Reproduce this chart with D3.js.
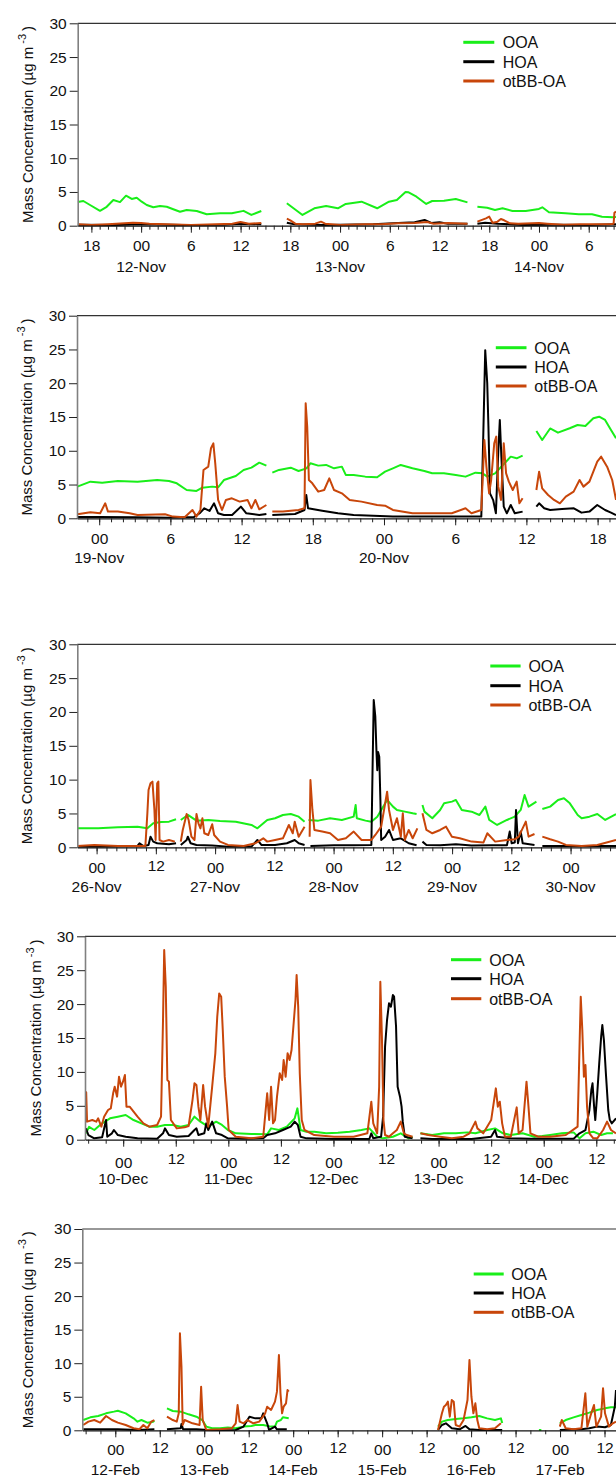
<!DOCTYPE html>
<html><head><meta charset="utf-8">
<script src="https://cdn.jsdelivr.net/npm/d3@7"></script>
<style>
body{margin:0;background:#fff;}
svg{display:block;font-family:"Liberation Sans",Arial,sans-serif;}
</style></head><body>
<svg id="chart" width="616" height="1478"></svg>
<script>
// ---------------- DATA ----------------
const seriesNames = ["OOA", "HOA", "otBB-OA"];
const yTicks = [0, 5, 10, 15, 20, 25, 30];

// Panel 1 : hours from 12-Nov 00:00
const p1Ticks = ["18","00","6","12","18","00","6","12","18","00","6"];
const p1Dates = ["12-Nov","13-Nov","14-Nov"];
const p1OOA = [[-7.65,3.5],[-6.97,3.66],[-6.16,3.07],[-4.96,2.2],[-4.15,2.8],[-3.35,3.8],[-2.55,3.5],[-1.82,4.45],[-1.13,3.96],[-0.53,4.15],[0.07,3.56],[0.68,3.07],[1.47,2.73],[2.28,2.92],[3.09,2.8],[3.88,2.43],[4.69,2.07],[5.5,2.33],[6.71,2.18],[7.91,1.69],[9.52,1.84],[10.94,1.84],[12.36,2.2],[13.3,1.6],[14.5,2.18],null,
 [17.58,3.32],[19.47,1.59],[20.9,2.58],[22.32,2.92],[23.74,2.58],[24.69,3.22],[26.59,3.56],[28.48,2.58],[29.9,3.56],[30.85,3.81],[31.9,5.0],[32.27,4.95],[33.22,4.3],[34.4,3.22],[35.11,3.66],[36.54,3.71],[37.96,3.96],[39.37,3.46],null,
 [40.57,2.82],[41.75,2.67],[42.69,2.33],[43.6,2.58],[44.8,2.18],[46.4,2.18],[47.99,2.48],[48.4,2.73],[49.2,1.99],[51.2,1.84],[52.8,1.69],[54.4,1.69],[55.6,1.34],[56.9,1.24],[57.29,1.3]];
const p1HOA = [[-7.65,0.15],[-3,0.1],[0,0.2],[5,0.1],[10,0.15],[12,0.3],[14.5,0.2],null,
 [17.58,0.45],[18.5,0.2],[22,0.1],[28,0.2],[31,0.4],[33,0.5],[34.2,0.85],[35,0.4],[36,0.5],[37,0.3],[39.37,0.3],null,
 [40.57,0.3],[41.5,0.45],[43,0.3],[46,0.1],[50,0.15],[54,0.1],[57.29,0.2]];
const p1BB = [[-7.65,0.2],[-6,0.1],[-4,0.2],[-2,0.35],[-1,0.45],[0,0.4],[1,0.3],[3,0.2],[6,0.1],[9,0.2],[11,0.3],[12,0.55],[13,0.3],[14.5,0.4],null,
 [17.58,1.05],[18,0.8],[18.6,0.3],[19.5,0.2],[21,0.3],[21.7,0.6],[22.2,0.3],[24,0.1],[27,0.2],[29,0.2],[31,0.35],[33,0.4],[34.5,0.55],[35.3,0.3],[37,0.4],[39.37,0.3],null,
 [40.57,0.6],[41.2,0.9],[41.6,1.09],[42.0,1.34],[42.4,0.45],[43.0,0.6],[43.4,0.99],[43.8,0.8],[44.5,0.35],[45.5,0.3],[48,0.4],[49,0.3],[51,0.15],[53,0.2],[56.5,0.2],[57.0,0.3],[57.1,1.9],[57.29,2.1]];

// Panel 2 : hours from 19-Nov 00:00
const p2Ticks = ["00","6","12","18","00","6","12","18"];
const p2Dates = ["19-Nov","20-Nov"];
const p2OOA = [[-1.84,4.69],[-0.74,5.43],[0.25,5.28],[1.57,5.53],[3.23,5.43],[4.88,5.67],[5.88,5.53],[6.54,5.18],[7.37,4.19],[8.2,4.05],[8.69,4.54],[9.52,4.69],[10.02,4.59],[10.51,5.67],[11.51,6.27],[12.17,7.16],[12.83,7.5],[13.49,8.24],[14.09,7.8],null,
 [14.59,6.76],[15.15,7.16],[16.14,7.5],[16.8,7.01],[17.47,7.4],[17.8,8.14],[18.46,7.8],[19.12,7.9],[19.79,7.4],[20.45,7.65],[20.78,6.42],[21.44,6.42],[22.43,6.17],[23.42,6.07],[24.09,6.91],[24.75,7.4],[25.41,7.9],[26.4,7.4],[27.4,7.01],[28.06,6.66],[29.05,6.66],[30.05,6.42],[30.87,6.17],[31.71,6.76],[32.3,6.66],[32.7,6.17],[33.36,6.66],[34.02,7.9],[34.68,9.13],[35.18,8.88],[35.68,9.28],null,
 [36.84,12.93],[37.33,11.6],[38.0,13.3],[38.66,12.68],[39.65,13.33],[40.31,13.82],[40.97,13.67],[41.64,14.81],[42.13,15.05],[42.63,14.56],[43.13,13.08],[43.55,11.85]];
const p2HOA = [[-1.87,0.2],[0,0.2],[3,0.15],[6,0.1],[8,0.2],[8.5,0.8],[8.86,1.48],[9.3,1.1],[9.68,2.22],[10.02,0.74],[10.51,0.49],[11.2,0.49],[11.94,1.73],[12.4,0.74],[13.49,0.49],[14.09,0.64],null,
 [14.59,0.49],[16.5,0.64],[17.3,1.23],[17.45,3.45],[17.6,1.48],[18.79,1.13],[20.12,0.74],[21.44,0.49],[24.75,0.25],[28.06,0.25],[32.2,0.25],[32.37,12.6],[32.53,24.9],[32.7,20.0],[32.8,13.6],[32.93,3.7],[33.2,2.7],[33.43,0.74],[33.63,9.87],[33.76,14.56],[33.89,9.13],[34.09,1.73],[34.35,0.74],[34.68,1.97],[35.02,0.74],[35.68,0.99],null,
 [36.84,1.73],[37.07,2.22],[37.5,1.48],[38.0,1.23],[39.0,1.38],[40.0,1.48],[40.64,0.84],[41.31,0.99],[41.97,1.97],[42.63,1.23],[43.13,0.84],[43.55,0.49]];
const p2BB = [[-1.84,0.59],[-0.74,0.89],[0.08,0.74],[0.51,2.22],[0.74,0.99],[1.57,0.99],[2.57,0.74],[3.23,0.49],[5.55,0.59],[6.21,0.25],[7.2,0.15],[7.86,1.23],[8.2,0.25],[8.53,1.23],[8.79,7.16],[9.19,7.65],[9.42,10.37],[9.62,11.1],[9.78,8.14],[10.02,2.72],[10.35,1.23],[10.68,2.72],[11.18,2.96],[11.84,2.47],[12.5,2.72],[12.83,1.48],[13.16,2.72],[13.49,1.33],[14.09,1.97],null,
 [14.59,0.99],[15.48,0.99],[16.8,1.23],[17.3,1.48],[17.4,17.03],[17.53,13.6],[17.67,5.67],[17.96,5.18],[18.46,3.95],[18.96,4.19],[19.39,5.92],[19.79,4.19],[20.45,3.7],[21.11,2.72],[22.1,2.47],[23.42,1.97],[24.09,1.87],[24.75,1.23],[26.4,0.74],[28.06,0.74],[29.71,0.74],[30.87,1.48],[31.37,0.74],[32.2,1.23],[32.46,11.6],[32.63,7.65],[32.86,3.7],[33.03,5.67],[33.29,11.1],[33.46,12.1],[33.63,4.69],[33.86,2.72],[34.09,11.1],[34.29,6.66],[34.52,5.43],[34.85,4.19],[35.18,5.43],[35.41,2.22],[35.68,2.96],null,
 [36.84,4.19],[37.07,6.91],[37.33,4.44],[37.83,3.45],[38.33,2.72],[38.82,2.22],[39.32,3.21],[39.98,3.95],[40.48,5.67],[40.81,4.69],[41.31,5.43],[41.97,8.39],[42.3,9.13],[42.8,7.65],[43.23,5.67],[43.55,2.72]];

// Panel 3 : hours from 26-Nov 00:00
const p3Ticks = ["00","12","00","12","00","12","00","12","00"];
const p3Dates = ["26-Nov","27-Nov","28-Nov","29-Nov","30-Nov"];
const p3OOA = [[-3.9,2.8],[0.33,2.8],[4.31,2.95],[8.29,3.05],[10.28,2.8],[11.47,3.55],[13.07,3.74],[14.66,3.79],[16.09,4.14],null,
 [17.05,4.04],[18.48,4.78],[20.23,3.94],[22.62,4.04],[25.0,3.89],[28.19,3.79],[31.37,3.3],[32.57,2.8],[34.56,4.04],[36.15,4.29],[37.74,4.78],[39.33,4.92],[40.93,4.53],[42.12,3.79],null,
 [42.92,4.04],[44.9,3.94],[47.29,4.29],[49.68,4.04],[52.07,4.53],[52.47,6.25],[52.7,4.29],[54.46,3.94],[55.65,3.79],[56.85,4.53],[58.84,7.0],[60.03,6.01],[60.83,5.52],[62.42,5.27],[64.02,5.02],[64.81,4.92],null,
 [66.0,6.25],[66.4,5.27],[68.0,4.29],[69.58,5.52],[70.38,6.5],[71.97,6.75],[72.77,7.0],[73.96,5.52],[75.95,5.27],[77.54,4.78],[78.74,6.01],[79.53,4.04],[81.12,3.3],[83.11,4.04],[84.7,4.53],[85.9,5.52],[86.69,7.73],[87.49,6.01],[88.53,6.5],[89.08,6.75],null,
 [90.28,5.66],[91.87,6.01],[93.46,7.0],[94.66,7.24],[95.85,6.5],[97.44,4.78],[98.24,4.29],[99.83,4.53],[101.42,4.92],[103.02,4.04],[105.2,4.92]];
const p3HOA = [[-3.9,0.1],[0,0.1],[4,0.15],[8.29,0.2],[8.69,0.6],[9.48,0.2],[10.52,0.35],[10.92,1.57],[11.47,0.84],[12.27,0.6],[14.66,0.44],[16.09,0.6],null,
 [17.05,0.35],[18.24,1.08],[18.48,1.57],[19.04,0.6],[20.23,0.35],[23.41,0.25],[26.6,0.1],[31.37,0.1],[32.57,1.08],[33.37,0.35],[36.15,0.35],[38.54,0.6],[40.13,1.08],[40.93,0.6],[42.12,0.35],null,
 [43.31,0.2],[48.09,0.3],[52.07,0.3],[55.65,0.35],[55.9,11.92],[56.13,21.77],[56.45,19.3],[56.69,14.1],[56.85,11.4],[57.01,14.1],[57.25,13.4],[57.48,7.0],[57.64,1.08],[58.44,1.57],[59.23,2.56],[60.03,1.08],[61.62,1.33],[63.22,0.6],[64.81,0.3],null,
 [66.0,0.84],[66.8,0.35],[69.58,0.3],[72.77,0.44],[75.95,0.25],[79.93,0.3],[83.11,0.3],[83.67,2.32],[84.07,0.6],[84.7,0.7],[84.95,5.52],[85.34,0.6],[85.9,2.32],[86.3,0.6],[88.69,0.35],null,
 [90.28,0.2],[95.85,0.2],[105.2,0.2]];
const p3BB = [[-3.9,0.2],[-0.47,0.35],[4.31,0.2],[9.88,0.2],[10.28,5.02],[10.52,8.47],[10.92,9.46],[11.31,9.7],[11.71,5.52],[11.95,1.08],[12.27,9.46],[12.51,9.7],[12.75,1.08],[13.46,0.84],[14.66,1.08],[15.85,0.84],null,
 [17.05,0.84],[17.45,2.56],[18.24,4.92],[18.64,4.04],[19.2,1.57],[19.83,1.08],[20.23,4.92],[20.63,3.55],[21.03,2.8],[21.43,4.29],[21.82,2.07],[22.62,1.82],[23.41,3.4],[23.81,1.82],[25.0,0.84],[26.6,0.35],[29.78,0.2],[32.17,0.6],[33.76,1.33],[34.56,0.84],[36.15,1.08],[37.74,1.33],[38.94,3.3],[39.73,2.07],[40.13,3.79],[40.93,1.57],[42.12,3.05],null,
 [43.15,1.57],[43.31,9.95],[43.71,5.52],[44.11,2.56],[45.7,2.32],[47.29,2.07],[48.89,1.08],[50.48,1.33],[52.07,2.32],[53.66,1.08],[55.65,1.08],[56.45,1.82],[57.64,3.05],[58.44,6.5],[58.84,8.22],[59.23,5.52],[60.03,2.56],[60.83,4.29],[61.62,1.57],[62.02,5.02],[62.42,1.08],[63.22,2.56],[64.02,1.33],[64.97,2.8],null,
 [66.0,5.02],[66.8,2.56],[68.0,2.07],[69.58,2.56],[70.78,3.05],[71.97,1.57],[73.56,1.33],[75.95,0.84],[78.34,0.7],[79.13,2.07],[80.73,0.84],[83.11,1.08],[84.7,1.18],[85.5,1.57],[86.93,3.79],[87.49,1.57],[88.69,1.97],null,
 [90.28,1.57],[91.87,1.18],[93.46,0.84],[95.06,0.35],[98.24,0.2],[101.42,0.35],[105.2,1.08]];

// Panel 4 : hours from 10-Dec 00:00
const p4Ticks = ["00","12","00","12","00","12","00","12","00","12"];
const p4Dates = ["10-Dec","11-Dec","12-Dec","13-Dec","14-Dec"];
const p4OOA = [[-8.5,0.94],[-7.8,1.9],[-6.6,1.43],[-4.81,2.41],[-3.01,3.15],[-1.22,3.4],[0.57,3.64],[2.37,2.9],[4.16,2.41],[5.95,1.92],[7.75,1.92],[9.54,2.17],[11.33,2.17],[13.13,1.92],[14.93,2.17],[16.27,3.4],[17.62,2.66],[19.41,1.92],[21.21,2.66],[22.55,2.17],[23.9,1.43],[25.69,0.94],[29.28,0.84],[32.87,0.79],[33.76,1.67],[35.56,1.43],[37.35,1.92],[39.15,3.15],[39.77,4.62],[40.49,1.43],[41.84,1.18],[43.63,1.18],[46.32,0.94],[49.01,1.03],[51.7,1.18],[54.39,1.43],[56.19,1.67],[57.98,0.44],[59.33,0.2],[61.57,0.44],[63.36,0.94],[65.16,0.2],[66.06,0.44],null,
 [67.85,0.94],[70.54,0.69],[73.23,0.94],[75.92,0.94],[78.61,1.08],[80.41,0.94],[83.1,1.43],[84.89,1.67],[86.69,0.94],[88.48,0.69],[91.17,0.94],[93.86,0.44],[95.66,0.54],[97.45,0.69],[100.14,0.94],[102.83,1.08],[104.18,0.2],[105.53,0.94],[107.32,1.18],[109.11,0.69],[110.46,0.94],[111.8,0.94]];
const p4HOA = [[-8.5,1.67],[-7.95,0.69],[-6.6,0.2],[-4.81,0.35],[-3.91,2.9],[-3.64,0.44],[-2.57,0.94],[-2.12,1.43],[-1.22,0.69],[0.57,0.44],[3.27,0.2],[7.75,0.15],[9.09,0.94],[9.54,1.67],[10.44,0.69],[12.23,0.44],[14.93,0.54],[16.27,1.43],[16.72,1.67],[17.17,0.69],[18.51,0.94],[18.96,2.41],[19.41,1.43],[20.31,2.66],[21.21,0.94],[22.55,0.69],[23.9,0.2],[27.49,0.15],[31.97,0.2],[32.87,0.69],[34.66,0.94],[36.46,1.43],[38.25,1.92],[39.15,2.66],[39.87,2.17],[40.49,0.44],[41.84,0.2],[48.12,0.1],[56.19,0.1],[56.64,0.94],[57.09,0.2],[58.88,0.44],[59.33,3.4],[59.78,13.72],[60.23,17.65],[60.68,20.11],[61.12,19.62],[61.57,21.34],[61.84,21.1],[62.29,16.67],[62.65,7.82],[63.19,6.35],[63.55,4.87],[63.82,2.66],[64.27,0.44],[66.06,0.2],null,
 [67.85,0.2],[70.54,0.1],[79.51,0.1],[83.99,0.44],[84.89,1.43],[85.34,0.44],[88.48,0.2],[92.97,0.15],[97.45,0.15],[102.83,0.15],[104.18,0.94],[105.53,1.43],[106.43,4.38],[106.87,7.33],[107.14,8.31],[107.5,4.87],[107.77,2.9],[108.22,6.84],[108.67,11.26],[109.11,15.19],[109.38,16.91],[109.74,14.7],[110.19,9.79],[110.73,4.38],[111.09,2.9],[111.53,2.41],[112.5,3.15]];
const p4BB = [[-8.6,2.6],[-8.45,7.0],[-8.25,2.66],[-7.05,2.9],[-6.15,2.66],[-5.71,3.15],[-4.99,1.92],[-4.36,3.4],[-3.46,4.38],[-2.83,4.62],[-2.3,6.84],[-1.94,7.82],[-1.4,6.35],[-0.95,9.3],[-0.5,7.82],[-0.05,8.56],[0.39,9.54],[0.75,4.87],[1.47,4.87],[2.37,4.13],[3.27,3.4],[4.61,2.41],[5.95,1.92],[7.75,2.17],[8.64,3.4],[9.09,17.65],[9.36,27.98],[9.72,22.56],[10.08,8.8],[10.44,8.56],[10.89,2.9],[12.23,1.67],[14.03,1.82],[14.93,2.02],[15.82,5.85],[16.27,8.31],[16.72,8.07],[17.17,4.87],[17.62,2.9],[18.25,8.07],[18.69,4.87],[19.41,1.92],[20.31,7.82],[21.03,12.74],[21.47,18.14],[21.92,21.58],[22.37,21.09],[22.73,16.18],[23.18,9.3],[23.72,4.87],[24.08,1.43],[25.69,0.44],[29.28,0.2],[31.97,0.44],[32.87,6.84],[33.32,2.9],[33.76,7.82],[34.21,2.41],[34.66,2.9],[35.11,6.35],[35.74,9.79],[36.28,8.8],[36.63,11.75],[37.08,9.3],[37.53,12.74],[37.98,11.75],[38.43,13.23],[38.97,17.65],[39.33,20.6],[39.59,24.29],[39.95,19.62],[40.31,9.79],[40.76,2.9],[41.39,1.43],[43.63,0.69],[48.12,0.44],[52.6,0.44],[55.74,0.94],[56.64,5.61],[57.09,2.41],[57.98,0.94],[58.43,7.82],[58.7,23.3],[59.06,15.19],[59.42,2.9],[59.78,0.69],[60.68,0.44],[61.57,0.94],[62.47,1.43],[63.36,2.66],[64.08,0.94],[64.71,0.69],[66.06,0.44],null,
 [67.85,0.94],[69.64,0.69],[72.33,0.44],[75.02,0.2],[77.71,0.44],[79.06,0.94],[80.41,2.66],[80.86,1.67],[82.2,0.94],[84.0,2.9],[85.07,7.57],[85.52,4.87],[85.97,5.61],[86.51,2.41],[87.14,0.44],[88.48,0.44],[89.83,4.77],[90.28,0.94],[91.17,1.43],[92.07,8.56],[92.52,4.87],[92.97,0.94],[94.76,0.44],[97.45,0.44],[101.04,0.69],[103.73,1.92],[104.45,21.09],[104.81,16.18],[105.17,9.3],[105.53,11.02],[105.89,4.87],[106.43,0.94],[107.32,0.2],[108.22,0.2],[109.56,1.43],[110.46,2.66],[111.35,1.43],[112.5,0.94]];

// Panel 5 : hours from 12-Feb 00:00
const p5Ticks = ["00","12","00","12","00","12","00","12","00","12","00","12"];
const p5Dates = ["12-Feb","13-Feb","14-Feb","15-Feb","16-Feb","17-Feb"];
const p5OOA = [[-8.64,1.53],[-6.73,1.93],[-4.61,2.13],[-2.49,2.53],[-0.37,2.78],[0.69,2.92],[2.81,2.53],[4.93,1.78],[5.99,1.29],[7.05,1.53],[8.64,1.14],[10.23,1.29],[10.55,1.39],null,
 [13.94,3.27],[15.53,2.88],[17.65,2.78],[19.77,2.38],[21.89,2.03],[23.48,1.53],[24.54,0.55],[26.13,0.3],[28.25,0.3],[30.37,0.4],[32.49,0.3],[34.61,0.55],[36.73,0.65],[37.79,0.79],[39.91,0.79],[42.03,0.55],[43.09,0.55],[43.62,1.29],[44.68,1.53],[45.21,1.93],[46.8,1.78],null,
 [87.08,0.55],[88.14,1.29],[89.73,1.53],[91.85,1.69],[93.97,1.78],[96.09,1.93],[98.21,2.13],[100.33,1.78],[102.45,1.53],[104.04,1.78],[104.4,1.1],null,
 [114.3,0.05],[114.96,0.05],null,
 [119.94,1.04],[121.53,1.53],[123.65,1.93],[125.77,2.28],[127.89,2.63],[130.01,3.02],[132.13,3.27],[133.72,3.42],[135.1,3.42]];
const p5HOA = [[-8.64,0.15],[0.69,0.15],[5.99,0.05],[10.55,0.15],null,
 [13.94,0.15],[17.65,0.3],[17.86,0.94],[18.29,0.15],[21.89,0.15],[26.13,0],[32.49,0.05],[34.61,0.55],[36.2,2.03],[37.79,1.78],[39.38,1.78],[39.91,2.53],[40.97,1.04],[41.5,0.05],[43.09,0.55],[43.62,0.15],[46.27,0.15],null,
 [87.08,0.05],[88.14,0.79],[89.2,1.04],[90.79,0.3],[92.91,0.15],[94.5,0.65],[95.56,0.15],[98.21,0.05],[104.4,0.05],null,
 [119.94,0.05],[125.77,0.15],[127.89,0.3],[130.01,0.55],[132.13,0.45],[133.72,0.79],[134.78,3.52],[135.1,6.01]];
const p5BB = [[-8.64,0.79],[-7.26,1.29],[-5.67,1.53],[-4.08,1.14],[-2.49,2.13],[-0.9,1.53],[0.69,1.14],[2.81,0.79],[4.93,0.3],[6.52,0.15],[7.58,0.79],[8.64,0.3],[9.7,1.29],[10.55,1.53],null,
 [13.94,2.03],[15.53,1.53],[16.59,1.29],[17.12,2.53],[17.44,14.46],[17.86,9.48],[18.18,0.79],[18.71,1.53],[20.83,1.04],[22.74,0.79],[23.16,6.5],[23.59,1.53],[24.54,0.05],[28.25,0.15],[31.43,0.3],[32.49,1.04],[33.0,3.77],[33.55,1.29],[34.61,1.04],[35.67,1.53],[37.26,1.04],[38.85,1.29],[40.44,2.53],[40.97,3.52],[42.03,3.03],[43.09,4.27],[43.62,5.76],[44.15,11.22],[44.57,5.51],[45.0,2.53],[45.42,3.52],[46.06,4.02],[46.48,6.01],[46.8,5.76],null,
 [87.08,0.05],[88.14,2.53],[88.67,3.52],[89.2,3.77],[89.73,4.27],[90.26,2.03],[90.79,4.52],[91.32,4.27],[91.85,0.79],[92.91,0.55],[93.97,1.53],[95.03,4.52],[95.56,10.47],[96.09,5.01],[96.62,2.53],[97.15,4.02],[97.68,1.53],[98.21,0.3],[100.33,0.15],[102.45,0.3],[104.04,1.04],null,
 [119.94,0.55],[120.47,1.53],[121.53,0.3],[123.65,0.15],[125.77,0.3],[126.83,5.51],[127.36,0.55],[128.42,2.53],[129.16,3.77],[129.8,0.55],[131.07,2.03],[131.6,6.26],[132.13,2.53],[133.19,0.55],[134.25,1.04],[135.1,1.29]];

// ---------------- LAYOUT / STYLE ----------------
const colors = ["#19ee19", "#000000", "#c8460a"];
const W = 616;
const panels = [
 {base:[2016,10,12], left:77.7, top:23.3, bottom:225.7, h0:-7.65, h1:57.29, tickStart:-6, tickStep:6, minorStep:1, ticks:p1Ticks, dates:p1Dates, series:[p1OOA,p1HOA,p1BB], leg:{x1:463.3,x2:494.3,tx:502.7,y:[42.3,61.7,81]}, titleX:33.3, labBase:25.8, dateBase:45.8, raise12:0},
 {base:[2016,10,19], left:77, top:315.7, bottom:518.3, h0:-1.87, h1:43.55, tickStart:0, tickStep:6, minorStep:1, ticks:p2Ticks, dates:p2Dates, series:[p2OOA,p2HOA,p2BB], leg:{x1:495.8,x2:526.5,tx:534.3,y:[347.7,367,386]}, titleX:32, labBase:25.5, dateBase:45, raise12:0},
 {base:[2016,10,26], left:77.3, top:644.3, bottom:847.3, h0:-3.91, h1:105.2, tickStart:0, tickStep:12, minorStep:2, ticks:p3Ticks, dates:p3Dates, series:[p3OOA,p3HOA,p3BB], leg:{x1:490.3,x2:520.6,tx:528.4,y:[666,685.7,705]}, titleX:32, labBase:25.9, dateBase:45, raise12:2},
 {base:[2016,11,10], left:85, top:936.3, bottom:1139.7, h0:-8.72, h1:112.5, tickStart:0, tickStep:12, minorStep:4, ticks:p4Ticks, dates:p4Dates, series:[p4OOA,p4HOA,p4BB], leg:{x1:451,x2:481.3,tx:489.2,y:[959.7,978.7,998.7]}, titleX:40.7, labBase:28, dateBase:44.2, raise12:4},
 {base:[2017,1,12], left:82.3, top:1229, bottom:1430.3, h0:-8.9, h1:135.1, tickStart:0, tickStep:12, minorStep:4, ticks:p5Ticks, dates:p5Dates, series:[p5OOA,p5HOA,p5BB], leg:{x1:473.7,x2:503.7,tx:511.3,y:[1274,1293,1312.3]}, titleX:33.3, labBase:24.5, dateBase:44.5, raise12:2}
];

const svg = d3.select("#chart");

panels.forEach((p, pi) => {
  const t = h => new Date(Date.UTC(p.base[0], p.base[1], p.base[2]) + h * 3600e3);
  const x = d3.scaleUtc().domain([t(p.h0), t(p.h1)]).range([p.left, W]);
  const y = d3.scaleLinear().domain([0, 30]).range([p.bottom, p.top]);
  const g = svg.append("g");

  const clipId = "clip" + pi;
  svg.append("clipPath").attr("id", clipId).append("rect")
    .attr("x", p.left).attr("y", p.top - 2).attr("width", W - p.left).attr("height", p.bottom - p.top + 3);

  // data lines
  const line = d3.line().defined(d => d !== null).x(d => x(t(d[0]))).y(d => y(d[1]));
  const lg = g.append("g").attr("clip-path", `url(#${clipId})`);
  p.series.forEach((s, si) => {
    lg.append("path").attr("d", line(s)).attr("fill", "none")
      .attr("stroke", colors[si]).attr("stroke-width", 2).attr("stroke-linejoin", "round");
  });

  // top frame line
  g.append("line").attr("x1", p.left).attr("x2", W).attr("y1", p.top).attr("y2", p.top)
    .attr("stroke", "#333").attr("stroke-width", 1.2);

  // y axis
  const ya = g.append("g").attr("transform", `translate(${p.left},0)`)
    .call(d3.axisLeft(y).tickValues(yTicks).tickSize(8).tickPadding(3).tickSizeOuter(0));
  ya.select(".domain").attr("stroke", "#808080").attr("stroke-width", 1.6);
  ya.selectAll(".tick line").attr("stroke", "#222");
  ya.selectAll("text").attr("font-size", 15.5).attr("fill", "#111").attr("font-family", "Liberation Sans, Arial, sans-serif");

  // x axis: minor
  const minorVals = d3.range(Math.ceil(p.h0 / p.minorStep) * p.minorStep, p.h1, p.minorStep).map(t);
  const xm = g.append("g").attr("transform", `translate(0,${p.bottom})`)
    .call(d3.axisBottom(x).tickValues(minorVals).tickSize(4).tickFormat("").tickSizeOuter(0));
  xm.select(".domain").attr("stroke", "#111").attr("stroke-width", 1.2);
  xm.selectAll(".tick line").attr("stroke", "#222");

  // x axis: major labelled
  const majorVals = p.ticks.map((lab, i) => t(p.tickStart + i * p.tickStep));
  const xa = g.append("g").attr("transform", `translate(0,${p.bottom})`)
    .call(d3.axisBottom(x).tickValues(majorVals).tickSize(7).tickSizeOuter(0)
      .tickFormat((d, i) => p.ticks[i]));
  xa.select(".domain").remove();
  xa.selectAll(".tick line").attr("stroke", "#222");
  xa.selectAll(".tick text").attr("font-size", 15.5).attr("fill", "#111")
    .attr("font-family", "Liberation Sans, Arial, sans-serif")
    .attr("dy", null)
    .attr("y", (d, i) => p.labBase - (p.ticks[i] === "12" ? p.raise12 : 0));

  // date labels
  g.selectAll(".date").data(p.dates).enter().append("text")
    .attr("x", (d, i) => x(t(i * 24))).attr("y", p.bottom + p.dateBase)
    .attr("text-anchor", "middle").attr("font-size", 15.5).attr("fill", "#111")
    .text(d => d);

  // y title
  const cy = (p.top + p.bottom) / 2;
  const tt = g.append("text").attr("transform", `translate(${p.titleX},${cy}) rotate(-90)`)
    .attr("text-anchor", "middle").attr("font-size", 15).attr("fill", "#111");
  tt.append("tspan").text("Mass Concentration (µg m");
  tt.append("tspan").attr("dy", -7).attr("dx", 3).attr("font-size", 11).text("-3");
  tt.append("tspan").attr("dy", 7).attr("dx", 3).text(")");

  // legend
  seriesNames.forEach((n, si) => {
    g.append("line").attr("x1", p.leg.x1).attr("x2", p.leg.x2)
      .attr("y1", p.leg.y[si]).attr("y2", p.leg.y[si])
      .attr("stroke", colors[si]).attr("stroke-width", 3);
    g.append("text").attr("x", p.leg.tx).attr("y", p.leg.y[si] + 5.8)
      .attr("font-size", 16).attr("fill", "#111").text(n);
  });
});
</script>
</body></html>
